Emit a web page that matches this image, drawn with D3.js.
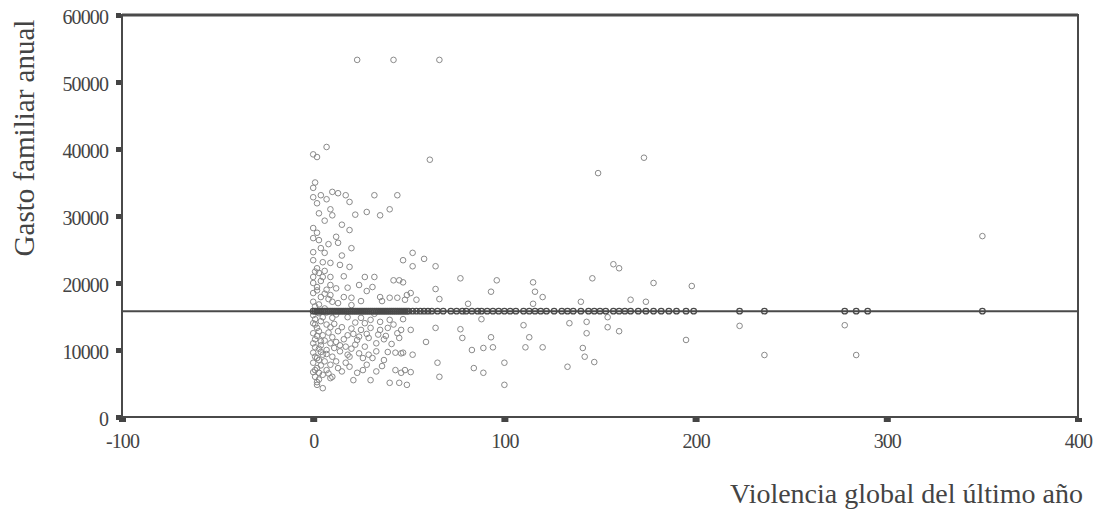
<!DOCTYPE html>
<html>
<head>
<meta charset="utf-8">
<script src="https://cdn.jsdelivr.net/npm/d3@7"></script>
<style>
  html, body { margin: 0; padding: 0; background: #fff; }
  svg { display: block; }
  text { font-family: "Liberation Serif", "DejaVu Serif", serif; fill: #444; }
</style>
</head>
<body>
<svg id="chart" width="1100" height="514"></svg>
<script>
// ---------- data ----------
const xTicks = [-100, 0, 100, 200, 300, 400];
const yTicks = [0, 10000, 20000, 30000, 40000, 50000, 60000];
const xTitle = "Violencia global del último año";
const yTitle = "Gasto familiar anual";
const mediaGasto = 15800;

// scattered observations: [violencia, gasto]
const puntosAltos = [
  [23,53300],[42,53300],[66,53300],
  [0,39200],[2,38800],[7,40300],[61,38400],[149,36400],[173,38700],[350,27000]
];
const puntosCluster = [
  [0,34200],[4,33100],[10,33600],[13,33400],[17,33100],[19,32100],[32,33100],[44,33100],[0,32800],[2,31900],
  [9,31000],[3,30400],[10,30100],[28,30600],[35,30100],[40,31000],[15,28700],[19,27900],[0,28200],[0,26700],
  [3,26400],[12,26900],[13,26000],[20,25200],[4,25200],[0,24600],[6,24500],[0,23400],[5,23100],[9,23000],
  [14,22700],[19,22400],[2,22200],[0,20900],[5,20900],[9,20900],[16,21000],[27,20900],[32,20900],[0,20000],
  [2,19400],[9,19700],[24,19700],[42,20400],[45,20400],[0,18500],[4,17900],[9,18200],[16,17900],[20,17800],
  [35,17900],[40,17800],[44,17800],[49,18200],[0,17200],[10,17200],[25,17300],
  [0,15200],[5,14900],[10,14800],[18,14900],[25,14800],[30,14500],[35,14200],[40,14500],[0,14000],[2,13300],
  [9,13400],[15,13400],[25,13000],[30,13300],[35,13000],[44,12500],[0,12500],[5,12200],[10,11900],[18,12200],
  [23,11500],[29,11800],[33,11000],[0,11000],[4,10700],[9,11000],[14,10700],[39,9700],[43,9600],[47,9600],
  [0,9600],[5,9300],[10,9000],[18,9300],[26,8800],[31,8800],[37,8500],[0,8100],[9,7800],[19,7500],
  [26,7000],[43,7000],[48,7000],[0,6700],[5,6300],[10,6000],[21,5500],[30,5500],[40,5100],[45,5100],
  [2,5200],[5,4300],[9,5800],
  [1,16500],[3,15500],[1,13800],[3,12800],[1,11600],[3,10200],[1,9000],[3,8500],[2,7300],[1,6000],
  [3,5600],[6,16200],[7,13800],[6,11400],[7,10000],[6,8300],[7,7000],[12,15300],[13,12800],[12,11200],
  [14,9800],[12,8300],[15,6800],[20,16700],[22,14100],[20,13200],[22,10800],[20,10200],[24,9500],[17,8100],
  [23,6600],[28,12400],[27,10500],[33,9800],[32,15400],[37,11600],[36,7600],[42,13800],[38,12100],[15,24100],
  [8,25800],[2,27500],[6,29300],[22,30200],[1,35000],[7,32500],[3,21500],[7,19000],[12,19200],[28,18800],
  [31,19400],[36,17300],
  [1,21700],[4,20300],[2,18900],[6,18400],[1,14600],[4,14300],[2,12100],[4,11300],[1,10400],[4,9700],
  [2,8800],[4,7700],[1,7000],[3,6600],[2,4800],[7,15600],[8,12600],[7,9400],[8,6500],[11,13900],
  [16,11600],[11,10300],[13,7300],[17,10500],[21,12400],[19,9000],[24,12000],[27,14000],[29,9300],[34,12300],
  [28,7800],[33,6800],[39,13300],[41,10900],[45,11800],[3,16800],[8,17600],[13,17000],[18,19300],[6,21800]
];
const puntosMedios = [
  [47,23400],[52,24500],[52,22500],[58,23600],[64,22500],[47,20100],[77,20700],[96,20400],[115,20100],
  [64,19100],[93,18700],[116,18700],[51,18500],[54,17500],[66,17600],[48,17500],[120,17900],[81,16900],[115,16900],
  [47,14600],[88,14600],[110,13700],[154,14900],[46,13000],[51,13000],[64,13300],[77,13100],[78,11800],[93,11900],
  [113,11900],[59,11200],[83,10000],[89,10300],[94,10400],[111,10400],[120,10400],[46,9500],[52,9300],[65,8100],
  [100,8100],[46,6600],[51,6700],[66,6000],[84,7300],[89,6600],[49,4800],[100,4800],
  [157,22800],[160,22200],[146,20700],[178,20000],[198,19550],[166,17500],[174,17200],[140,17200],
  [134,14000],[143,14200],[143,12500],[154,13400],[160,12800],[195,11500],[141,10300],[142,9000],[147,8200],[133,7500],
  [223,13600],[236,9250],[278,13700],[284,9250]
];
// observations lying on the mean value (violencia only)
const violenciaEnMedia = [
  0,1,2,3,4,5,6,7,8,9,10,11,12,13,14,15,16,17,18,19,20,21,22,23,24,25,26,27,28,29,30,31,32,33,34,35,36,37,38,
  39,40,41,42,43,44,45,46,47,48,49,50,52,54,56,58,60,62,65,68,72,75,78,80,
  83,86,88,91,94,97,100,103,106,110,113,116,119,122,126,130,133,136,140,144,147,150,153,157,160,163,166,170,
  174,178,182,186,190,195,199,223,236,278,284,290,350
];

// ---------- layout ----------
const svg = d3.select("#chart");
const mLeft = 122, mRight = 1078, mTop = 15, mBottom = 417;

const x = d3.scaleLinear().domain([-100, 400]).range([mLeft, mRight]);
const y = d3.scaleLinear().domain([0, 60000]).range([mBottom, mTop]);

// frame
svg.append("rect")
  .attr("x", mLeft).attr("y", mTop)
  .attr("width", mRight - mLeft).attr("height", mBottom - mTop)
  .attr("fill", "none").attr("stroke", "#4a4a4a").attr("stroke-width", 2);
svg.append("line")
  .attr("x1", mLeft).attr("x2", mRight).attr("y1", mTop).attr("y2", mTop)
  .attr("stroke", "#4a4a4a").attr("stroke-width", 3);

// y axis
const yAxis = svg.append("g")
  .attr("transform", `translate(${mLeft - 1},0)`)
  .call(d3.axisLeft(y).tickValues(yTicks).tickSize(5).tickPadding(8).tickFormat(d => String(d)));
yAxis.select(".domain").remove();
yAxis.selectAll(".tick line").attr("stroke", "#444").attr("stroke-width", 5);
yAxis.selectAll(".tick text")
  .attr("font-size", 20).attr("letter-spacing", -0.9).attr("dy", "0.42em")
  .style("font-family", "Liberation Serif").attr("fill", "#444");

// x axis
const xAxis = svg.append("g")
  .attr("transform", `translate(0,${mBottom + 1})`)
  .call(d3.axisBottom(x).tickValues(xTicks).tickSize(4).tickPadding(12).tickFormat(d => String(d)));
xAxis.select(".domain").remove();
xAxis.selectAll(".tick line").attr("stroke", "#444").attr("stroke-width", 7);
xAxis.selectAll(".tick text")
  .attr("font-size", 20).attr("letter-spacing", -0.9)
  .style("font-family", "Liberation Serif").attr("fill", "#444");

// mean line
svg.append("line")
  .attr("x1", x(-100)).attr("x2", x(400))
  .attr("y1", y(mediaGasto)).attr("y2", y(mediaGasto))
  .attr("stroke", "#4a4a4a").attr("stroke-width", 2);

// scattered points
const dispersos = puntosAltos.concat(puntosCluster, puntosMedios);
svg.append("g").selectAll("circle")
  .data(dispersos).join("circle")
  .attr("cx", d => x(d[0])).attr("cy", d => y(d[1]))
  .attr("r", 2.8)
  .attr("fill", "none").attr("stroke", "#8a8a8a").attr("stroke-width", 1);

// points on the mean
svg.append("g").selectAll("circle")
  .data(violenciaEnMedia).join("circle")
  .attr("cx", d => x(d)).attr("cy", y(mediaGasto))
  .attr("r", 2.8)
  .attr("fill", "none").attr("stroke", "#4a4a4a").attr("stroke-width", 1.3);

// titles
svg.append("text")
  .attr("transform", `translate(34,${138}) rotate(-90)`)
  .attr("text-anchor", "middle")
  .attr("font-size", 29)
  .text(yTitle);

svg.append("text")
  .attr("x", 1083).attr("y", 503)
  .attr("text-anchor", "end")
  .attr("font-size", 28)
  .text(xTitle);
</script>
</body>
</html>
